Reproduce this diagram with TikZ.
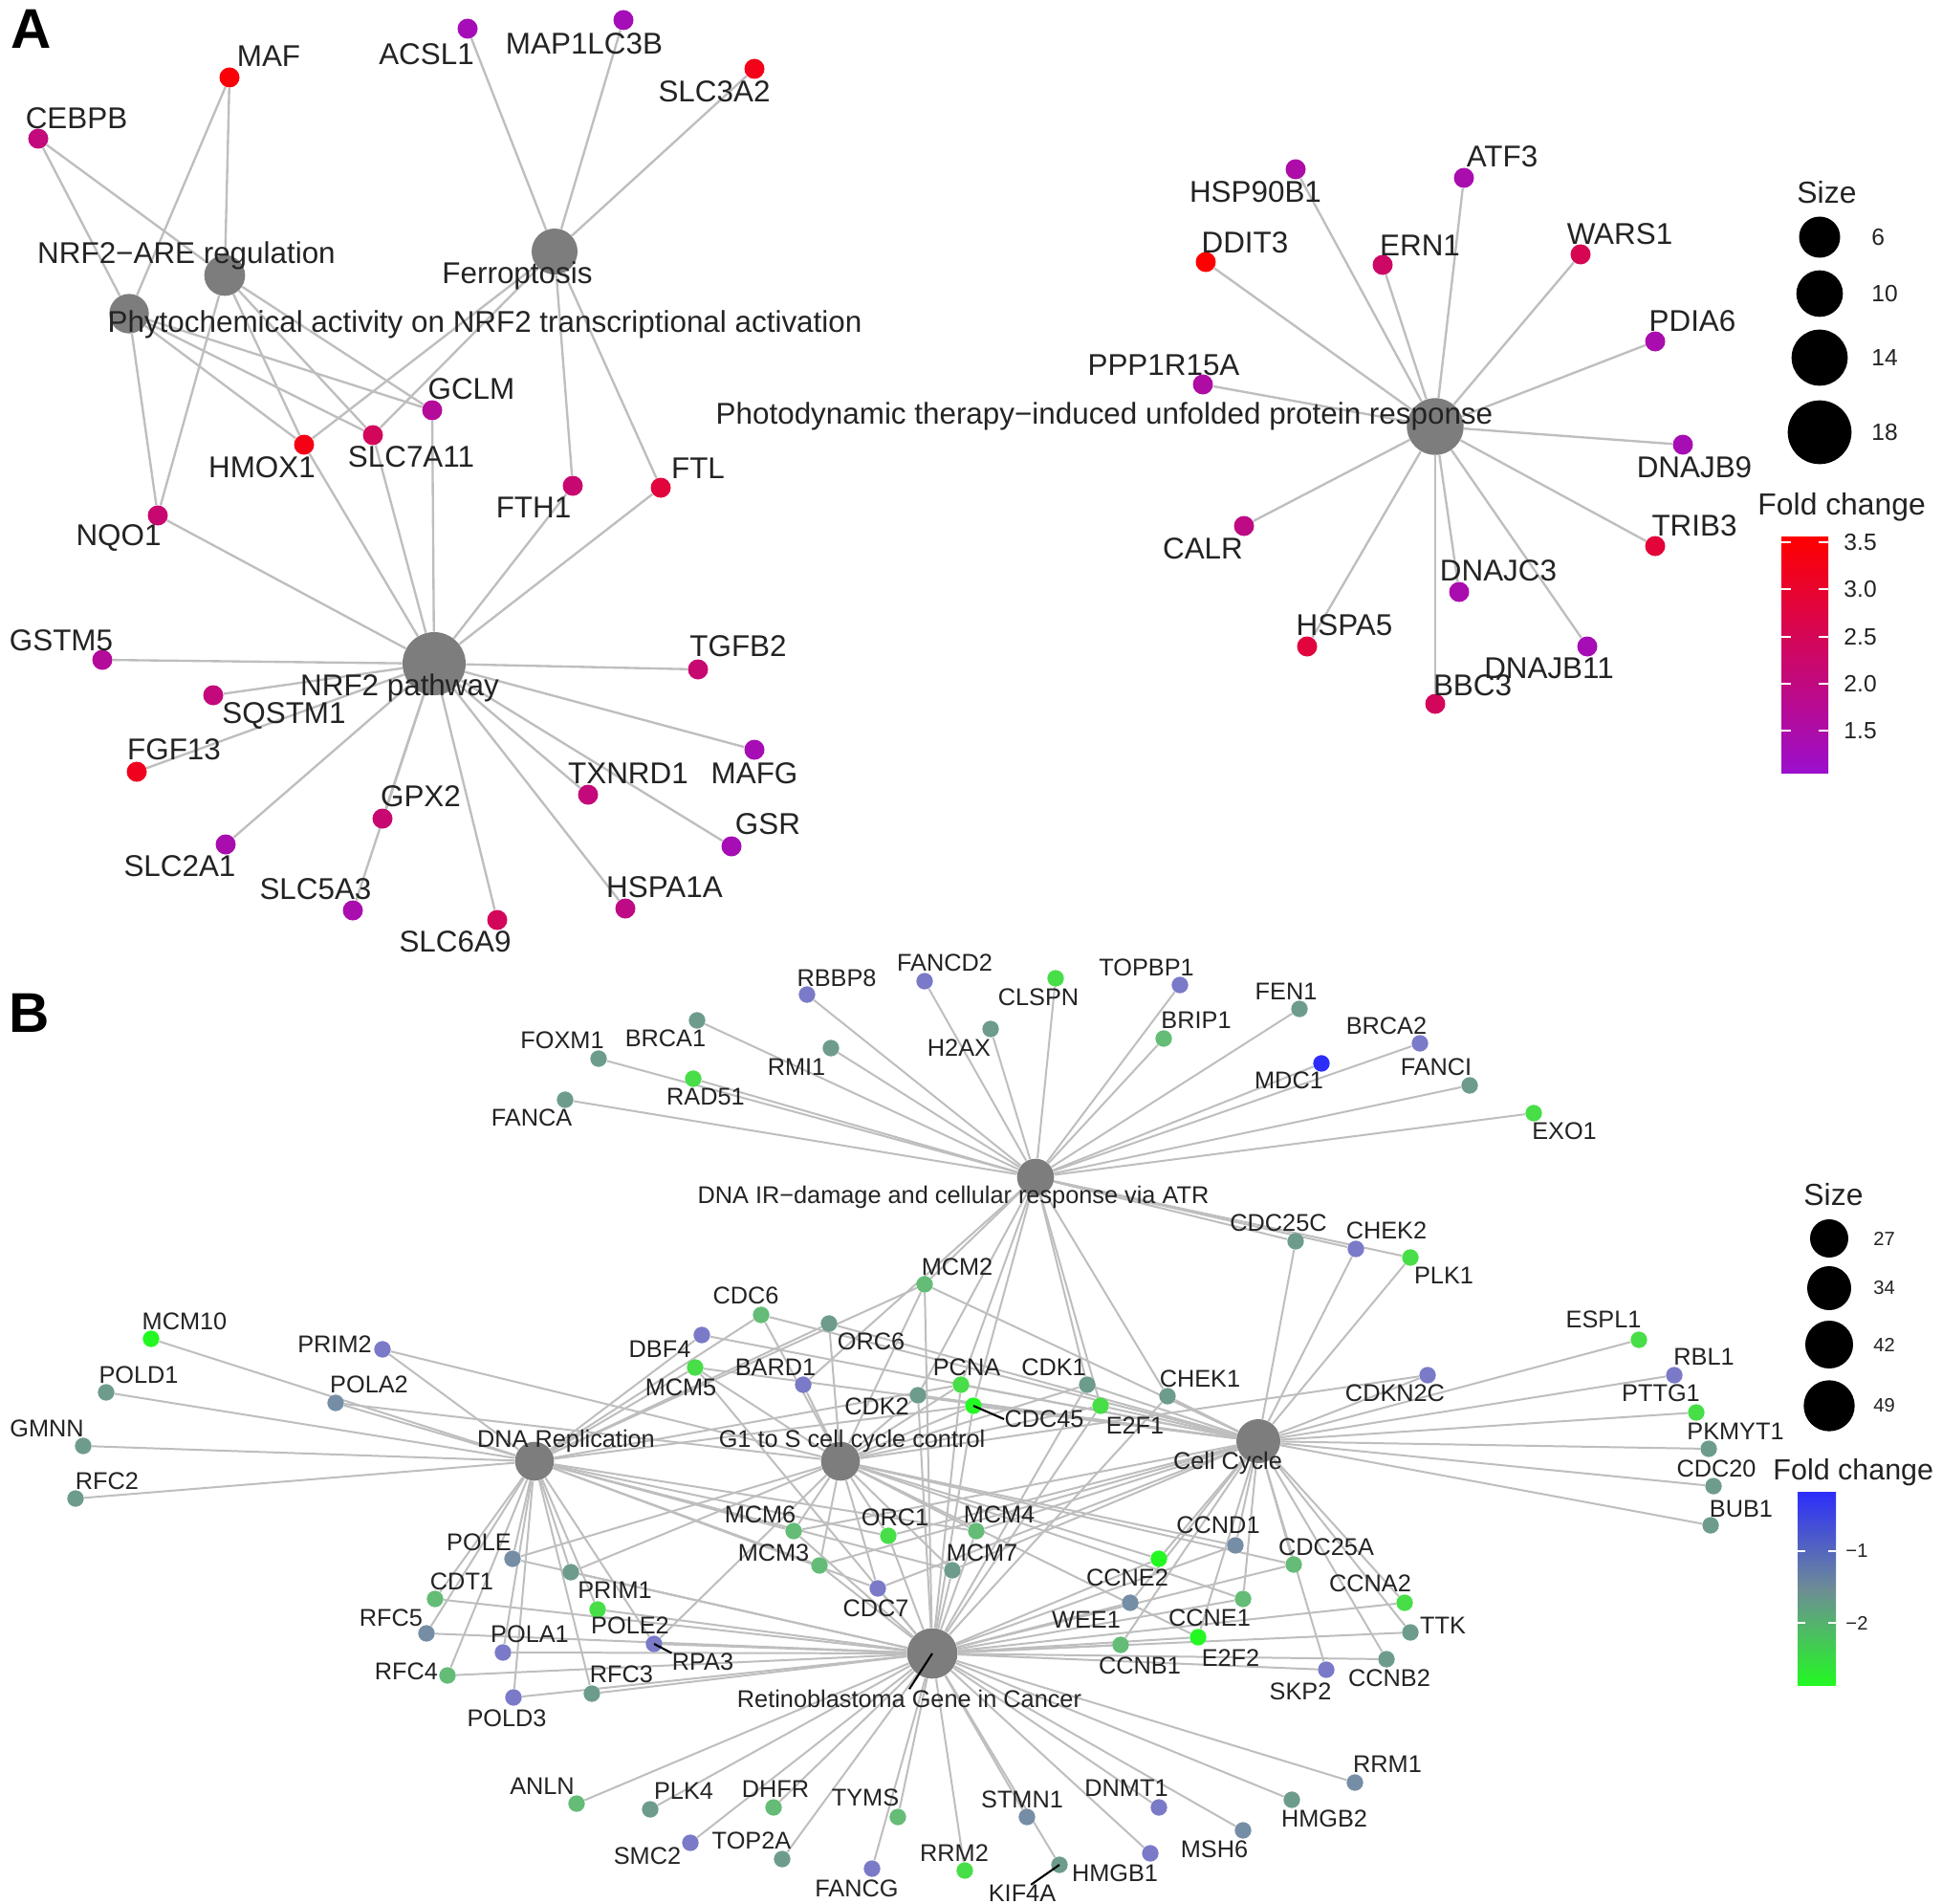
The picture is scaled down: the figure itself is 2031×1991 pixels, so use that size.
\documentclass[tikz,border=0pt]{standalone}
\usepackage{fontspec}
\setmainfont{Liberation Sans}
\pgfdeclarelayer{back}
\pgfdeclarelayer{edges}
\pgfsetlayers{back,edges,main}
\definecolor{fcHi}{RGB}{255,0,0}
\definecolor{fcLo}{RGB}{155,15,205}
\definecolor{fcBa}{RGB}{45,45,250}
\definecolor{fcBb}{RGB}{122,122,200}
\definecolor{fcBc}{RGB}{118,142,165}
\definecolor{fcBd}{RGB}{110,156,140}
\definecolor{fcBe}{RGB}{100,188,118}
\definecolor{fcBf}{RGB}{72,222,72}
\definecolor{fcBg}{RGB}{35,248,35}
\definecolor{linkgray}{RGB}{190,190,190}
\definecolor{hubgray}{RGB}{125,125,125}
\definecolor{txt}{RGB}{35,35,35}
\newcommand{\geneA}[6]{%
  \node[dotA, fill=fcHi!#6!fcLo] (#1) at (#2,#3) {};
  \node[labA] (#1-l) at (#4,#5) {#1};}
\newcommand{\geneB}[6]{%
  \node[dotB, fill=#6] (#1) at (#2,#3) {};
  \node[labB] (#1-l) at (#4,#5) {#1};}

\begin{document}
\begin{tikzpicture}[x=0.015cm, y=-0.015cm]
  \tikzstyle{dotA}=[circle, inner sep=0pt, minimum size=0.315cm]
  \tikzstyle{dotB}=[circle, inner sep=0pt, minimum size=0.26cm]
  \tikzstyle{hub}=[circle, inner sep=0pt, fill=hubgray]
  \tikzstyle{labA}=[inner sep=0pt, text=txt, font=\fontsize{13.4}{14}\selectfont]
  \tikzstyle{labB}=[inner sep=0pt, text=txt, font=\fontsize{10.8}{12}\selectfont]
  \tikzstyle{linkA}=[draw=linkgray, line width=1pt]
  \tikzstyle{linkB}=[draw=linkgray, line width=0.85pt]
  \tikzstyle{leader}=[draw=black, line width=0.9pt]
  \tikzstyle{legtitle}=[anchor=west, inner sep=0pt, text=txt, font=\fontsize{13.6}{14}\selectfont]
  \tikzstyle{legvalA}=[anchor=west, inner sep=0pt, text=txt, font=\fontsize{10.5}{11}\selectfont]
  \tikzstyle{legvalB}=[anchor=west, inner sep=0pt, text=txt, font=\fontsize{8.6}{9}\selectfont]
  \tikzstyle{panel}=[inner sep=0pt, font=\fontsize{25}{25}\bfseries\selectfont]

  \begin{pgfonlayer}{back}
    \fill[white] (0,0) rectangle (2031,1991);
  \end{pgfonlayer}
  \useasboundingbox (0,0) rectangle (2031,1991);

  % panel A: pathways
  \node[panel] (panA) at (33,30) {A};
  \node[hub, minimum size=0.64cm] (ar) at (235,288) {};
  \node[hub, minimum size=0.62cm] (ph) at (135,328) {};
  \node[hub, minimum size=0.72cm] (fe) at (580,263) {};
  \node[hub, minimum size=0.99cm] (pw) at (454,694) {};
  \node[hub, minimum size=0.89cm] (pd) at (1501,446) {};
  \node[labA] (ar-l) at (195,267) {NRF2−ARE regulation};
  \node[labA] (fe-l) at (541,288) {Ferroptosis};
  \node[labA] (ph-l) at (507,339) {Phytochemical activity on NRF2 transcriptional activation};
  \node[labA] (pw-l) at (418,719) {NRF2 pathway};
  \node[labA] (pd-l) at (1155,435) {Photodynamic therapy−induced unfolded protein response};

  % panel A: genes
  \geneA{MAF}{240}{81}{281}{59}{95}
  \geneA{CEBPB}{40}{145}{80}{124}{40}
  \geneA{ACSL1}{489}{30}{446}{57}{10}
  \geneA{MAP1LC3B}{652}{21}{611}{46}{10}
  \geneA{SLC3A2}{789}{72}{747}{96}{88}
  \geneA{GCLM}{452}{429}{493}{407}{25}
  \geneA{HMOX1}{318}{465}{274}{489}{90}
  \geneA{SLC7A11}{390}{455}{430}{478}{55}
  \geneA{FTH1}{599}{508}{558}{531}{45}
  \geneA{FTL}{691}{510}{730}{490}{70}
  \geneA{NQO1}{165}{539}{124}{563}{45}
  \geneA{GSTM5}{107}{690}{64}{670}{25}
  \geneA{TGFB2}{730}{700}{772}{676}{45}
  \geneA{SQSTM1}{223}{727}{297}{749}{40}
  \geneA{FGF13}{143}{807}{182}{784}{85}
  \geneA{MAFG}{789}{784}{789}{809}{12}
  \geneA{TXNRD1}{615}{831}{657}{809}{40}
  \geneA{GPX2}{400}{856}{440}{833}{45}
  \geneA{GSR}{765}{885}{803}{862}{12}
  \geneA{SLC2A1}{236}{883}{188}{906}{15}
  \geneA{SLC5A3}{369}{952}{330}{930}{15}
  \geneA{SLC6A9}{520}{962}{476}{985}{55}
  \geneA{HSPA1A}{654}{950}{695}{928}{35}
  \geneA{HSP90B1}{1355}{177}{1313}{201}{18}
  \geneA{ATF3}{1531}{186}{1571}{164}{15}
  \geneA{DDIT3}{1261}{274}{1302}{254}{100}
  \geneA{ERN1}{1446}{277}{1485}{257}{50}
  \geneA{WARS1}{1653}{266}{1694}{245}{60}
  \geneA{PDIA6}{1731}{357}{1770}{336}{15}
  \geneA{PPP1R15A}{1258}{402}{1217}{382}{20}
  \geneA{DNAJB9}{1760}{465}{1772}{489}{12}
  \geneA{CALR}{1301}{550}{1258}{574}{35}
  \geneA{TRIB3}{1731}{571}{1772}{550}{72}
  \geneA{DNAJC3}{1526}{619}{1567}{597}{15}
  \geneA{HSPA5}{1367}{676}{1406}{654}{70}
  \geneA{DNAJB11}{1660}{676}{1620}{699}{12}
  \geneA{BBC3}{1501}{736}{1540}{717}{55}

  % panel A: legend
  \node[legtitle] (sizeA) at (1879,201) {Size};
  \node[circle, fill=black, inner sep=0pt, minimum size=0.645cm] (sA1) at (1903,248) {};
  \node[circle, fill=black, inner sep=0pt, minimum size=0.73cm] (sA2) at (1903,307) {};
  \node[circle, fill=black, inner sep=0pt, minimum size=0.88cm] (sA3) at (1903,374) {};
  \node[circle, fill=black, inner sep=0pt, minimum size=1.0cm] (sA4) at (1903,452) {};
  \node[legvalA] (sA1-l) at (1957,248) {6};
  \node[legvalA] (sA2-l) at (1957,307) {10};
  \node[legvalA] (sA3-l) at (1957,374) {14};
  \node[legvalA] (sA4-l) at (1957,452) {18};
  \node[legtitle] (foldA) at (1838,530) {Fold change};
  \shade[top color=fcHi, bottom color=fcLo] (1863,561) rectangle (1912,808);
  \foreach \yy/\v in {567/3.5, 616/3.0, 666/2.5, 715/2.0, 764/1.5} {
    \draw[white, line width=0.8pt] (1863,\yy) -- +(10,0);
    \draw[white, line width=0.8pt] (1912,\yy) -- +(-10,0);
    \node[legvalA] (fA-\v) at (1928,\yy) {\v};
  }

  % panel B: pathways
  \node[panel] (panB) at (31,1059) {B};
  \node[hub, minimum size=0.58cm] (ir) at (1083,1231) {};
  \node[hub, minimum size=0.61cm] (rep) at (559,1528) {};
  \node[hub, minimum size=0.61cm] (gs) at (879,1528) {};
  \node[hub, minimum size=0.69cm] (cc) at (1316,1507) {};
  \node[hub, minimum size=0.79cm] (rb) at (975,1729) {};
  \node[labB] (ir-l) at (997,1252) {DNA IR−damage and cellular response via ATR};
  \node[labB] (rep-l) at (592,1507) {DNA Replication};
  \node[labB] (gs-l) at (891,1507) {G1 to S cell cycle control};
  \node[labB] (cc-l) at (1284,1530) {Cell Cycle};
  \node[labB] (rb-l) at (951,1776) {Retinoblastoma Gene in Cancer};

  % panel B: genes
  \geneB{FANCA}{591}{1150}{556}{1169}{fcBd}
  \geneB{FOXM1}{626}{1107}{588}{1088}{fcBd}
  \geneB{RAD51}{725}{1128}{738}{1147}{fcBf}
  \geneB{BRCA1}{729}{1067}{696}{1086}{fcBd}
  \geneB{RMI1}{869}{1096}{833}{1116}{fcBd}
  \geneB{RBBP8}{844}{1040}{875}{1023}{fcBb}
  \geneB{FANCD2}{967}{1026}{988}{1007}{fcBb}
  \geneB{H2AX}{1036}{1076}{1003}{1096}{fcBd}
  \geneB{CLSPN}{1104}{1023}{1086}{1043}{fcBf}
  \geneB{TOPBP1}{1234}{1030}{1199}{1012}{fcBb}
  \geneB{FEN1}{1359}{1055}{1345}{1037}{fcBd}
  \geneB{BRIP1}{1217}{1086}{1251}{1067}{fcBe}
  \geneB{BRCA2}{1485}{1091}{1450}{1073}{fcBb}
  \geneB{MDC1}{1382}{1112}{1348}{1130}{fcBa}
  \geneB{FANCI}{1537}{1135}{1502}{1116}{fcBd}
  \geneB{EXO1}{1604}{1164}{1636}{1183}{fcBf}
  \geneB{CDC25C}{1355}{1298}{1337}{1279}{fcBd}
  \geneB{CHEK2}{1418}{1306}{1450}{1287}{fcBb}
  \geneB{PLK1}{1475}{1315}{1510}{1334}{fcBf}
  \geneB{ESPL1}{1714}{1401}{1677}{1380}{fcBf}
  \geneB{CDKN2C}{1493}{1438}{1459}{1457}{fcBb}
  \geneB{RBL1}{1751}{1438}{1782}{1419}{fcBb}
  \geneB{PTTG1}{1774}{1477}{1737}{1457}{fcBf}
  \geneB{PKMYT1}{1787}{1515}{1815}{1497}{fcBd}
  \geneB{CDC20}{1792}{1554}{1795}{1536}{fcBd}
  \geneB{BUB1}{1789}{1595}{1821}{1578}{fcBd}
  \geneB{CHEK1}{1221}{1460}{1255}{1442}{fcBd}
  \geneB{CDK1}{1137}{1448}{1102}{1430}{fcBd}
  \geneB{E2F1}{1151}{1470}{1187}{1491}{fcBf}
  \geneB{MCM2}{967}{1343}{1001}{1325}{fcBe}
  \geneB{CDC6}{796}{1375}{780}{1355}{fcBe}
  \geneB{ORC6}{867}{1384}{911}{1403}{fcBd}
  \geneB{DBF4}{734}{1396}{690}{1411}{fcBb}
  \geneB{MCM5}{727}{1430}{712}{1451}{fcBf}
  \geneB{BARD1}{840}{1448}{811}{1430}{fcBb}
  \geneB{PCNA}{1005}{1448}{1011}{1430}{fcBf}
  \geneB{CDK2}{960}{1459}{917}{1471}{fcBd}
  \geneB{CDC45}{1018}{1470}{1092}{1484}{fcBg}
  \geneB{MCM10}{158}{1400}{193}{1382}{fcBg}
  \geneB{PRIM2}{400}{1411}{350}{1406}{fcBb}
  \geneB{POLD1}{111}{1456}{145}{1438}{fcBd}
  \geneB{POLA2}{351}{1467}{386}{1448}{fcBc}
  \geneB{GMNN}{87}{1512}{49}{1494}{fcBd}
  \geneB{RFC2}{79}{1567}{112}{1549}{fcBd}
  \geneB{POLE}{536}{1630}{501}{1613}{fcBc}
  \geneB{CDT1}{455}{1672}{483}{1654}{fcBe}
  \geneB{PRIM1}{597}{1644}{643}{1663}{fcBd}
  \geneB{POLE2}{625}{1683}{659}{1700}{fcBf}
  \geneB{RFC5}{446}{1708}{409}{1692}{fcBc}
  \geneB{POLA1}{526}{1728}{554}{1709}{fcBb}
  \geneB{RFC4}{468}{1752}{425}{1748}{fcBe}
  \geneB{RPA3}{684}{1719}{735}{1738}{fcBb}
  \geneB{RFC3}{619}{1771}{650}{1751}{fcBd}
  \geneB{POLD3}{537}{1775}{530}{1797}{fcBb}
  \geneB{MCM6}{830}{1601}{795}{1584}{fcBe}
  \geneB{ORC1}{929}{1606}{936}{1587}{fcBf}
  \geneB{MCM4}{1021}{1601}{1045}{1584}{fcBe}
  \geneB{MCM3}{857}{1637}{809}{1624}{fcBe}
  \geneB{MCM7}{996}{1642}{1027}{1624}{fcBd}
  \geneB{CDC7}{918}{1661}{916}{1682}{fcBb}
  \geneB{ANLN}{603}{1886}{567}{1868}{fcBe}
  \geneB{PLK4}{680}{1892}{715}{1873}{fcBd}
  \geneB{DHFR}{809}{1890}{811}{1871}{fcBe}
  \geneB{TYMS}{939}{1900}{905}{1880}{fcBe}
  \geneB{SMC2}{722}{1927}{677}{1941}{fcBb}
  \geneB{TOP2A}{818}{1944}{786}{1925}{fcBd}
  \geneB{FANCG}{912}{1954}{896}{1975}{fcBb}
  \geneB{RRM2}{1009}{1956}{998}{1938}{fcBf}
  \geneB{CCND1}{1292}{1616}{1274}{1595}{fcBc}
  \geneB{CCNE2}{1212}{1630}{1179}{1650}{fcBg}
  \geneB{CDC25A}{1353}{1636}{1387}{1618}{fcBe}
  \geneB{CCNE1}{1300}{1672}{1265}{1692}{fcBe}
  \geneB{WEE1}{1182}{1676}{1136}{1694}{fcBc}
  \geneB{CCNA2}{1469}{1676}{1433}{1656}{fcBf}
  \geneB{TTK}{1475}{1707}{1509}{1700}{fcBd}
  \geneB{E2F2}{1253}{1712}{1287}{1734}{fcBg}
  \geneB{CCNB1}{1172}{1720}{1192}{1742}{fcBe}
  \geneB{CCNB2}{1450}{1735}{1453}{1755}{fcBd}
  \geneB{SKP2}{1387}{1746}{1360}{1769}{fcBb}
  \geneB{RRM1}{1417}{1864}{1451}{1845}{fcBc}
  \geneB{HMGB2}{1351}{1882}{1385}{1902}{fcBd}
  \geneB{DNMT1}{1212}{1890}{1178}{1870}{fcBb}
  \geneB{STMN1}{1074}{1900}{1069}{1882}{fcBc}
  \geneB{MSH6}{1300}{1914}{1270}{1934}{fcBc}
  \geneB{HMGB1}{1203}{1938}{1166}{1959}{fcBb}
  \geneB{KIF4A}{1108}{1950}{1069}{1980}{fcBd}

  % leader lines to moved labels
  \draw[leader] (CDC45.center) -- (CDC45-l.west);
  \draw[leader] (RPA3.center) -- (RPA3-l.north west);
  \draw[leader] (KIF4A.center) -- (KIF4A-l.45);
  \draw[leader] (rb.center) -- (rb-l.north);

  % panel B: legend
  \node[legtitle] (sizeB) at (1886,1249) {Size};
  \node[circle, fill=black, inner sep=0pt, minimum size=0.6cm] (sB1) at (1913,1295) {};
  \node[circle, fill=black, inner sep=0pt, minimum size=0.69cm] (sB2) at (1913,1347) {};
  \node[circle, fill=black, inner sep=0pt, minimum size=0.75cm] (sB3) at (1913,1406) {};
  \node[circle, fill=black, inner sep=0pt, minimum size=0.8cm] (sB4) at (1913,1470) {};
  \node[legvalB] (sB1-l) at (1959,1295) {27};
  \node[legvalB] (sB2-l) at (1959,1347) {34};
  \node[legvalB] (sB3-l) at (1959,1406) {42};
  \node[legvalB] (sB4-l) at (1959,1470) {49};
  \node[legtitle, font=\fontsize{13}{14}\selectfont] (foldB) at (1854,1540) {Fold change};
  \shade[top color=fcBa, bottom color=fcBg, middle color={rgb,255:red,110;green,140;blue,150}]
    (1880,1560) rectangle (1920,1762);
  \foreach \yy/\v in {1622/1, 1697/2} {
    \draw[white, line width=0.8pt] (1880,\yy) -- +(8,0);
    \draw[white, line width=0.8pt] (1920,\yy) -- +(-8,0);
    \node[legvalB] (fB-\v) at (1930,\yy) {−\v};
  }

  % links
  \begin{pgfonlayer}{edges}
    \foreach \g in {CEBPB,MAF,NQO1,HMOX1,SLC7A11,GCLM}
      {\draw[linkA] (ar) -- (\g); \draw[linkA] (ph) -- (\g);}
    \foreach \g in {ACSL1,MAP1LC3B,SLC3A2,HMOX1,SLC7A11,FTH1,FTL}
      \draw[linkA] (fe) -- (\g);
    \foreach \g in {NQO1,HMOX1,SLC7A11,GCLM,FTH1,FTL,GSTM5,TGFB2,SQSTM1,FGF13,
                    MAFG,TXNRD1,GPX2,GSR,SLC2A1,SLC5A3,SLC6A9,HSPA1A}
      \draw[linkA] (pw) -- (\g);
    \foreach \g in {HSP90B1,ATF3,DDIT3,ERN1,WARS1,PDIA6,PPP1R15A,DNAJB9,CALR,
                    TRIB3,DNAJC3,HSPA5,DNAJB11,BBC3}
      \draw[linkA] (pd) -- (\g);
    \foreach \g in {FANCA,FOXM1,RAD51,BRCA1,RMI1,RBBP8,FANCD2,H2AX,CLSPN,TOPBP1,
                    FEN1,BRIP1,BRCA2,MDC1,FANCI,EXO1,CDC25C,CHEK2,PLK1,CHEK1,CDK1,
                    E2F1,MCM2,PCNA,CDK2,CDC45,BARD1}
      \draw[linkB] (ir) -- (\g);
    \foreach \g in {MCM10,PRIM2,POLD1,POLA2,GMNN,RFC2,POLE,CDT1,PRIM1,POLE2,RFC5,
                    POLA1,RFC4,RPA3,RFC3,POLD3,MCM2,CDC6,ORC6,DBF4,MCM5,PCNA,CDC45,
                    MCM6,ORC1,MCM4,MCM3,MCM7,CDC7}
      \draw[linkB] (rep) -- (\g);
    \foreach \g in {PRIM2,POLA2,MCM2,CDC6,ORC6,MCM5,BARD1,PCNA,CDK2,CDC45,CDK1,E2F1,
                    CDKN2C,MCM6,ORC1,MCM4,MCM3,MCM7,CDC7,CCND1,CCNE2,CCNE1,
                    CDC25A,E2F2,POLE,PRIM1,RPA3}
      \draw[linkB] (gs) -- (\g);
    \foreach \g in {CDC25C,CHEK2,PLK1,CHEK1,CDK1,E2F1,CDKN2C,ESPL1,RBL1,PTTG1,PKMYT1,
                    CDC20,BUB1,MCM2,CDC6,ORC6,DBF4,MCM5,PCNA,CDK2,CDC45,MCM6,ORC1,
                    MCM4,MCM3,MCM7,CDC7,CCND1,CCNE2,CDC25A,CCNE1,WEE1,CCNA2,TTK,E2F2,
                    CCNB1,CCNB2,SKP2}
      \draw[linkB] (cc) -- (\g);
    \foreach \g in {MCM2,MCM5,PCNA,CDK2,CDC45,CDK1,E2F1,CHEK1,MCM6,ORC1,MCM4,MCM3,
                    MCM7,CDC7,CCND1,CCNE2,CDC25A,CCNE1,WEE1,CCNA2,TTK,E2F2,CCNB1,
                    CCNB2,SKP2,POLE,CDT1,PRIM1,POLE2,RFC5,POLA1,RFC4,RPA3,RFC3,POLD3,
                    ANLN,PLK4,DHFR,TYMS,SMC2,TOP2A,FANCG,RRM2,STMN1,KIF4A,HMGB1,
                    DNMT1,MSH6,HMGB2,RRM1}
      \draw[linkB] (rb) -- (\g);
  \end{pgfonlayer}
\end{tikzpicture}
\end{document}
